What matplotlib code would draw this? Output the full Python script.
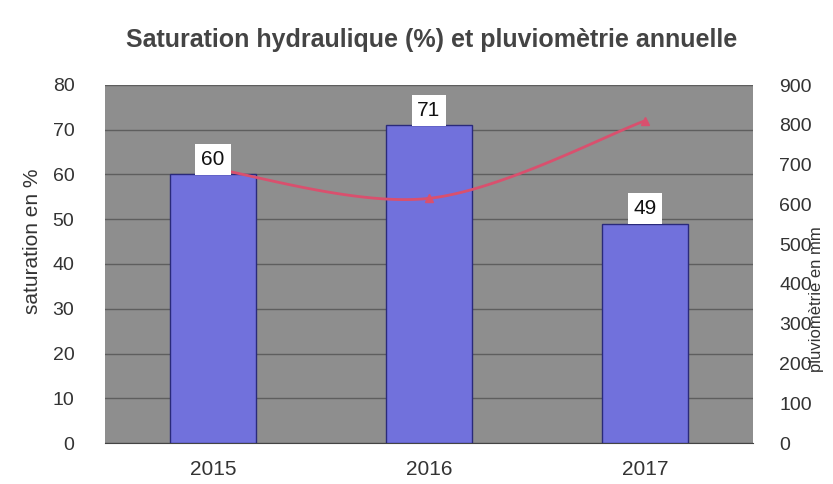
import matplotlib
matplotlib.use("Agg")
import matplotlib.pyplot as plt
import numpy as np

plt.rcParams['font.family'] = ['Liberation Sans', 'DejaVu Sans']

# données
annees = ['2015', '2016', '2017']
saturation = [60, 71, 49]          # %
pluviometrie = [690, 615, 810]     # mm

bg_gris = '#8e8e8e'
bleu = '#7171dc'
rouge = '#d9506e'
texte = '#333333'


def catmull_rom(xs, ys, n=60):
    # lissage type Excel
    px = np.concatenate([[xs[0]], xs, [xs[-1]]])
    py = np.concatenate([[ys[0]], ys, [ys[-1]]])
    out_x, out_y = [], []
    for i in range(1, len(px) - 2):
        t = np.linspace(0, 1, n)
        for arr, out in ((px, out_x), (py, out_y)):
            p0, p1, p2, p3 = arr[i - 1], arr[i], arr[i + 1], arr[i + 2]
            out.extend(0.5 * ((2 * p1) + (-p0 + p2) * t
                              + (2 * p0 - 5 * p1 + 4 * p2 - p3) * t ** 2
                              + (-p0 + 3 * p1 - 3 * p2 + p3) * t ** 3))
    return np.array(out_x), np.array(out_y)


fig = plt.figure(figsize=(8.33, 4.84), dpi=100)
ax = fig.add_axes([105 / 833, 41 / 484, 648 / 833, 358 / 484])
ax.set_facecolor(bg_gris)

x = np.arange(len(annees))
bars = ax.bar(x, saturation, width=0.40, color=bleu, edgecolor='#2a2a7a',
              linewidth=1.0, zorder=3)

ax.set_xlim(-0.5, 2.5)
ax.set_ylim(0, 80)
ax.set_yticks(range(0, 81, 10))
ax.set_xticks(x)
ax.set_xticklabels(annees)
ax.grid(axis='y', color='#5e5e5e', linewidth=1.0, zorder=1)
ax.set_axisbelow(True)
ax.tick_params(axis='x', length=0, pad=12, labelsize=15, labelcolor=texte)
ax.tick_params(axis='y', length=0, pad=22, labelsize=14, labelcolor=texte)
for s in ax.spines.values():
    s.set_visible(False)
ax.spines['bottom'].set_visible(True)
ax.spines['bottom'].set_color('#444444')

# axe secondaire : pluviométrie, tracé au-dessus des barres
ax2 = ax.twinx()
ax2.set_ylim(0, 900)
ax2.set_yticks(range(0, 901, 100))
ax2.tick_params(axis='y', length=0, pad=19, labelsize=14, labelcolor=texte)
for s in ax2.spines.values():
    s.set_visible(False)

cx, cy = catmull_rom(x.astype(float), np.array(pluviometrie, dtype=float))
ax2.plot(cx, cy, color=rouge, linewidth=2.0, zorder=4)
ax2.plot(x, pluviometrie, linestyle='none', marker='^', markersize=6,
         color=rouge, zorder=4)

# étiquettes des barres (sur ax2 pour passer au-dessus de la courbe)
for b, v in zip(bars, saturation):
    ax2.annotate(str(v), (b.get_x() + b.get_width() / 2, b.get_height()),
                 xycoords=ax.transData, xytext=(0, 4), textcoords='offset points',
                 ha='center', va='bottom', fontsize=15, color='#111111', zorder=6,
                 bbox=dict(boxstyle='square,pad=0.28', fc='white', ec='none'))

fig.text(0.518, 1 - 40 / 484, 'Saturation hydraulique (%) et pluviomètrie annuelle',
         ha='center', va='center', fontsize=18, fontweight='bold', color='#444444')
fig.text(33 / 833, 1 - 241 / 484, 'saturation en %', rotation=90,
         ha='center', va='center', fontsize=15, color=texte)
fig.text(817 / 833, 1 - 299 / 484, 'pluviomètrie en mm', rotation=90,
         ha='center', va='center', fontsize=12, color=texte)

fig.savefig('out.png', dpi=100)
